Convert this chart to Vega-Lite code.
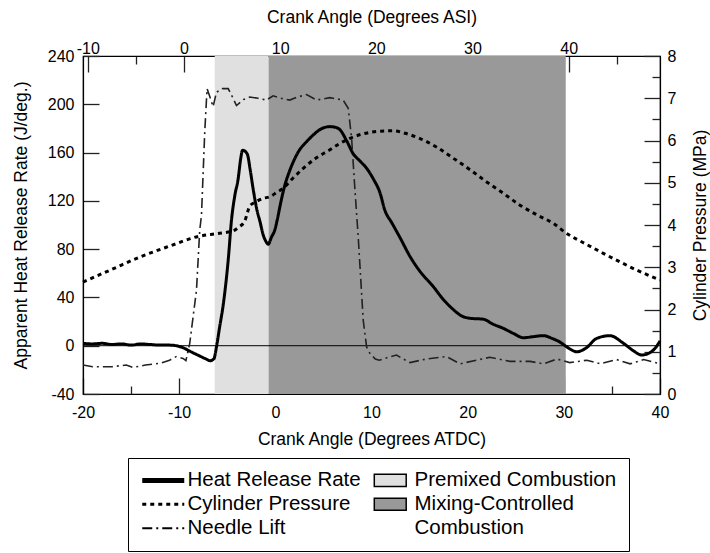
{
  "$schema": "https://vega.github.io/schema/vega-lite/v6.json",
  "width": 577,
  "height": 338,
  "autosize": {"type": "none"},
  "padding": {"left": 83, "top": 56, "right": 50, "bottom": 159},
  "background": "white",
  "config": {
    "view": {"stroke": "black", "strokeWidth": 1.2},
    "font": "Liberation Sans",
    "axis": {
      "grid": false, "domainColor": "black", "domainWidth": 1.2,
      "tickColor": "#222", "tickWidth": 1.3,
      "labelColor": "black", "titleColor": "black",
      "labelFont": "Liberation Sans", "titleFont": "Liberation Sans",
      "labelFontSize": 16, "titleFontSize": 17.5, "titleFontWeight": "normal",
      "labelFlush": false, "labelOverlap": false, "labelBound": false
    }
  },
  "datasets": {
    "phases": [
      {"start": -6.3, "end": -0.7, "phase": "Premixed Combustion"},
      {"start": -0.7, "end": 30.2, "phase": "Mixing-Controlled Combustion"}
    ],
    "zero": [{"value": 0}],
    "asiRange": [{"asi": -10.5}, {"asi": 49.5}],
    "heatRelease": [
      {"atdc": -20, "value": 2}, {"atdc": -19, "value": 1.5}, {"atdc": -18, "value": 2}, {"atdc": -17, "value": 1},
      {"atdc": -16, "value": 1.5}, {"atdc": -15, "value": 0.5}, {"atdc": -14, "value": 1.5}, {"atdc": -13, "value": 1},
      {"atdc": -12, "value": 0.5}, {"atdc": -11, "value": 0.5}, {"atdc": -10.3, "value": 0}, {"atdc": -9.5, "value": -2},
      {"atdc": -8.9, "value": -4.5}, {"atdc": -8, "value": -8}, {"atdc": -7.2, "value": -11}, {"atdc": -6.8, "value": -12.4},
      {"atdc": -6.4, "value": -11}, {"atdc": -6.1, "value": 0}, {"atdc": -5.8, "value": 15}, {"atdc": -5.4, "value": 35},
      {"atdc": -4.9, "value": 71}, {"atdc": -4.56, "value": 104}, {"atdc": -4.2, "value": 125}, {"atdc": -3.87, "value": 138},
      {"atdc": -3.6, "value": 155}, {"atdc": -3.41, "value": 162}, {"atdc": -2.93, "value": 159}, {"atdc": -2.6, "value": 145},
      {"atdc": -2.31, "value": 130}, {"atdc": -1.9, "value": 112}, {"atdc": -1.6, "value": 103}, {"atdc": -1.27, "value": 92},
      {"atdc": -0.95, "value": 86}, {"atdc": -0.75, "value": 84}, {"atdc": -0.4, "value": 90}, {"atdc": -0.05, "value": 96},
      {"atdc": 0.19, "value": 104}, {"atdc": 0.6, "value": 120}, {"atdc": 0.99, "value": 133}, {"atdc": 1.4, "value": 143},
      {"atdc": 1.85, "value": 152}, {"atdc": 2.5, "value": 162}, {"atdc": 3.25, "value": 169}, {"atdc": 4, "value": 175},
      {"atdc": 4.63, "value": 179}, {"atdc": 5.67, "value": 181.5}, {"atdc": 6.2, "value": 181}, {"atdc": 6.71, "value": 179},
      {"atdc": 7.4, "value": 170}, {"atdc": 8.1, "value": 159}, {"atdc": 8.8, "value": 153}, {"atdc": 9.49, "value": 147},
      {"atdc": 10.2, "value": 138}, {"atdc": 10.87, "value": 127}, {"atdc": 11.4, "value": 112}, {"atdc": 12.1, "value": 102},
      {"atdc": 13, "value": 89}, {"atdc": 14, "value": 74}, {"atdc": 15, "value": 62}, {"atdc": 16.42, "value": 49},
      {"atdc": 17.5, "value": 38}, {"atdc": 18.5, "value": 30}, {"atdc": 19.3, "value": 25}, {"atdc": 20.24, "value": 22.7},
      {"atdc": 21.62, "value": 22}, {"atdc": 22.6, "value": 18}, {"atdc": 23.7, "value": 14.4}, {"atdc": 24.8, "value": 10},
      {"atdc": 25.8, "value": 6.6}, {"atdc": 26.8, "value": 7.5}, {"atdc": 27.87, "value": 8.3}, {"atdc": 28.8, "value": 6},
      {"atdc": 29.6, "value": 3}, {"atdc": 30.4, "value": -1.5}, {"atdc": 31.34, "value": -5}, {"atdc": 32.3, "value": -2},
      {"atdc": 33.4, "value": 6}, {"atdc": 34.8, "value": 8.3}, {"atdc": 36.2, "value": 2}, {"atdc": 37.2, "value": -4},
      {"atdc": 38.1, "value": -7.7}, {"atdc": 38.9, "value": -6}, {"atdc": 39.5, "value": -2}, {"atdc": 40, "value": 4}
    ],
    "needleLift": [
      {"atdc": -20, "value": -16}, {"atdc": -19, "value": -17.4}, {"atdc": -17, "value": -17.4}, {"atdc": -15.5, "value": -16},
      {"atdc": -14.8, "value": -18}, {"atdc": -13.5, "value": -16}, {"atdc": -12, "value": -14.6}, {"atdc": -11, "value": -12},
      {"atdc": -10.3, "value": -9}, {"atdc": -9.6, "value": -10.5}, {"atdc": -9.3, "value": -12.4}, {"atdc": -8.9, "value": 2},
      {"atdc": -8.2, "value": 46}, {"atdc": -7.86, "value": 96}, {"atdc": -7.68, "value": 108}, {"atdc": -7.34, "value": 177},
      {"atdc": -7.1, "value": 213}, {"atdc": -6.8, "value": 206}, {"atdc": -6.47, "value": 198}, {"atdc": -6.12, "value": 210},
      {"atdc": -5.5, "value": 213}, {"atdc": -4.9, "value": 213}, {"atdc": -4.4, "value": 205}, {"atdc": -4.04, "value": 199},
      {"atdc": -3.3, "value": 204}, {"atdc": -2.65, "value": 206}, {"atdc": -1.8, "value": 205}, {"atdc": -0.92, "value": 203.5},
      {"atdc": -0.23, "value": 207}, {"atdc": 0.6, "value": 205}, {"atdc": 1.5, "value": 203.5}, {"atdc": 2.3, "value": 206},
      {"atdc": 3.25, "value": 208}, {"atdc": 4.28, "value": 203.5}, {"atdc": 5.67, "value": 205.5}, {"atdc": 7.05, "value": 203.5},
      {"atdc": 7.58, "value": 196.7}, {"atdc": 7.93, "value": 172}, {"atdc": 8.27, "value": 130}, {"atdc": 8.62, "value": 90},
      {"atdc": 9.14, "value": 21}, {"atdc": 9.49, "value": -1}, {"atdc": 9.83, "value": -6.3}, {"atdc": 10.4, "value": -11},
      {"atdc": 10.8, "value": -12}, {"atdc": 11.6, "value": -10}, {"atdc": 12.6, "value": -7.7}, {"atdc": 13.3, "value": -11},
      {"atdc": 14, "value": -14}, {"atdc": 15.7, "value": -11}, {"atdc": 17.8, "value": -9}, {"atdc": 19.2, "value": -15},
      {"atdc": 20.9, "value": -12}, {"atdc": 22.3, "value": -9.6}, {"atdc": 24.4, "value": -13}, {"atdc": 26.5, "value": -13},
      {"atdc": 27.9, "value": -15}, {"atdc": 29.3, "value": -11}, {"atdc": 30.6, "value": -14}, {"atdc": 32.4, "value": -12},
      {"atdc": 33.8, "value": -15}, {"atdc": 35.5, "value": -11.5}, {"atdc": 36.9, "value": -15}, {"atdc": 38.3, "value": -11.5},
      {"atdc": 40, "value": -15}
    ],
    "pressure": [
      {"atdc": -20, "value": 2.65}, {"atdc": -17, "value": 2.95}, {"atdc": -14, "value": 3.25}, {"atdc": -11, "value": 3.5},
      {"atdc": -8, "value": 3.73}, {"atdc": -6, "value": 3.8}, {"atdc": -4.4, "value": 3.86}, {"atdc": -3.8, "value": 3.95},
      {"atdc": -3.17, "value": 4.1}, {"atdc": -2.65, "value": 4.45}, {"atdc": -2, "value": 4.55}, {"atdc": -1.27, "value": 4.63},
      {"atdc": -0.57, "value": 4.67}, {"atdc": 0.2, "value": 4.78}, {"atdc": 0.81, "value": 4.87}, {"atdc": 1.8, "value": 5.1},
      {"atdc": 2.9, "value": 5.34}, {"atdc": 4.2, "value": 5.58}, {"atdc": 5.67, "value": 5.78}, {"atdc": 6.7, "value": 5.93},
      {"atdc": 7.75, "value": 6.05}, {"atdc": 9, "value": 6.15}, {"atdc": 10.87, "value": 6.22}, {"atdc": 12.26, "value": 6.23},
      {"atdc": 13.5, "value": 6.17}, {"atdc": 15, "value": 6.05}, {"atdc": 16.8, "value": 5.84}, {"atdc": 18.5, "value": 5.58},
      {"atdc": 20.3, "value": 5.3}, {"atdc": 21.97, "value": 5.02}, {"atdc": 23.7, "value": 4.75}, {"atdc": 25.44, "value": 4.47},
      {"atdc": 27.2, "value": 4.24}, {"atdc": 28.9, "value": 4.04}, {"atdc": 30.3, "value": 3.8}, {"atdc": 32.2, "value": 3.56},
      {"atdc": 34.1, "value": 3.33}, {"atdc": 35.9, "value": 3.12}, {"atdc": 37.6, "value": 2.93}, {"atdc": 40, "value": 2.7}
    ]
  },
  "layer": [
    {
      "layer": [
        {
          "data": {"name": "phases"},
          "mark": {"type": "rect"},
          "encoding": {
            "x": {
              "field": "start", "type": "quantitative",
              "scale": {"domain": [-20, 40], "nice": false, "zero": false},
              "axis": {
                "orient": "bottom",
                "title": "Crank Angle (Degrees ATDC)",
                "values": [-20, -15, -10, -5, 0, 5, 10, 15, 20, 25, 30, 35, 40],
                "labelExpr": "datum.value % 10 === 0 ? '' + datum.value : ''",
                "tickSize": {"condition": {"test": "datum.value % 10 === 0", "value": -16}, "value": -8},
                "labelPadding": 26,
                "titlePadding": 2
              }
            },
            "x2": {"field": "end"},
            "fill": {
              "field": "phase", "type": "nominal",
              "scale": {"domain": ["Premixed Combustion", "Mixing-Controlled Combustion"], "range": ["#e0e0e0", "#999999"]},
              "legend": null
            }
          }
        },
        {
          "data": {"name": "zero"},
          "mark": {"type": "rule", "color": "black", "strokeWidth": 1},
          "encoding": {"y": {"field": "value", "type": "quantitative"}}
        },
        {
          "data": {"name": "needleLift"},
          "mark": {"type": "line", "stroke": "#222222", "strokeWidth": 1.6},
          "encoding": {
            "x": {"field": "atdc", "type": "quantitative"},
            "y": {"field": "value", "type": "quantitative"},
            "strokeDash": {
              "datum": "Needle Lift", "type": "nominal",
              "scale": {
                "domain": ["Heat Release Rate", "Cylinder Pressure", "Needle Lift", "Premixed Combustion", "Mixing-Controlled Combustion", "Combustion"],
                "range": [[1, 0], [4, 4], [10, 4, 2, 4], [1, 0], [1, 0], [1, 0]]
              }
            }
          }
        },
        {
          "data": {"name": "heatRelease"},
          "mark": {"type": "line", "stroke": "black", "strokeWidth": 3, "interpolate": "monotone"},
          "encoding": {
            "x": {"field": "atdc", "type": "quantitative"},
            "y": {
              "field": "value", "type": "quantitative",
              "scale": {"domain": [-40, 240], "nice": false, "zero": false},
              "axis": {
                "orient": "left",
                "title": "Apparent Heat Release Rate (J/deg.)",
                "values": [-40, -20, 0, 20, 40, 60, 80, 100, 120, 140, 160, 180, 200, 220, 240],
                "labelExpr": "datum.value % 40 === 0 ? '' + datum.value : ''",
                "tickSize": {"condition": {"test": "datum.value % 40 === 0", "value": -16}, "value": -8},
                "labelPadding": 25,
                "titlePadding": 17
              }
            },
            "strokeDash": {
              "datum": "Heat Release Rate", "type": "nominal",
              "scale": {
                "domain": ["Heat Release Rate", "Cylinder Pressure", "Needle Lift", "Premixed Combustion", "Mixing-Controlled Combustion", "Combustion"],
                "range": [[1, 0], [4, 4], [10, 4, 2, 4], [1, 0], [1, 0], [1, 0]]
              },
              "legend": {
                "title": null,
                "orient": "none",
                "legendX": 45,
                "legendY": 402,
                "direction": "vertical",
                "columns": 2,
                "symbolSize": 1764,
                "symbolType": "stroke",
                "symbolStrokeColor": "black",
                "symbolOffset": 13,
                "labelFont": "Liberation Sans",
                "labelFontSize": 20.5,
                "labelColor": "black",
                "labelLimit": 400,
                "labelOffset": 14,
                "rowPadding": 3,
                "columnPadding": 6,
                "strokeColor": "black",
                "padding": 12,
                "labelExpr": "datum.value === 'Mixing-Controlled Combustion' ? 'Mixing-Controlled' : datum.label",
                "encode": {
                  "symbols": {
                    "update": {
                      "shape": {"signal": "datum.value === 'Premixed Combustion' || datum.value === 'Mixing-Controlled Combustion' ? 'M-0.76,-0.29H0.76V0.29H-0.76Z' : 'stroke'"},
                      "fill": {"signal": "datum.value === 'Premixed Combustion' ? '#e0e0e0' : datum.value === 'Mixing-Controlled Combustion' ? '#999999' : 'transparent'"},
                      "stroke": {"value": "black"},
                      "strokeWidth": {"signal": "datum.value === 'Heat Release Rate' ? 5 : datum.value === 'Cylinder Pressure' ? 3 : datum.value === 'Needle Lift' ? 2 : 1.5"},
                      "opacity": {"signal": "datum.value === 'Combustion' ? 0 : 1"}
                    }
                  }
                }
              }
            }
          }
        }
      ]
    },
    {
      "data": {"name": "pressure"},
      "mark": {"type": "line", "stroke": "black", "strokeWidth": 3, "interpolate": "monotone"},
      "encoding": {
        "x": {"field": "atdc", "type": "quantitative", "scale": {"domain": [-20, 40], "nice": false, "zero": false}, "axis": null},
        "y": {
          "field": "value", "type": "quantitative",
          "scale": {"domain": [0, 8], "nice": false, "zero": false},
          "axis": {
            "orient": "right",
            "title": "Cylinder Pressure (MPa)",
            "values": [0, 0.5, 1, 1.5, 2, 2.5, 3, 3.5, 4, 4.5, 5, 5.5, 6, 6.5, 7, 7.5, 8],
            "labelExpr": "datum.value % 1 === 0 ? '' + datum.value : ''",
            "tickSize": {"condition": {"test": "datum.value % 1 === 0", "value": -16}, "value": -8},
            "labelPadding": 23,
            "titleAngle": -90,
            "titleBaseline": "top",
            "titlePadding": 16
          }
        },
        "strokeDash": {
          "datum": "Cylinder Pressure", "type": "nominal",
          "scale": {
            "domain": ["Heat Release Rate", "Cylinder Pressure", "Needle Lift", "Premixed Combustion", "Mixing-Controlled Combustion", "Combustion"],
            "range": [[1, 0], [4, 4], [10, 4, 2, 4], [1, 0], [1, 0], [1, 0]]
          }
        }
      }
    },
    {
      "data": {"name": "asiRange"},
      "mark": {"type": "rule", "opacity": 0},
      "encoding": {
        "x": {
          "field": "asi", "type": "quantitative",
          "scale": {"domain": [-10.5, 49.5], "nice": false, "zero": false},
          "axis": {
            "orient": "top",
            "title": "Crank Angle (Degrees ASI)",
            "values": [-10, -5, 0, 5, 10, 15, 20, 25, 30, 35, 40, 45],
            "labelExpr": "datum.value % 10 === 0 ? '' + datum.value : ''",
            "tickSize": {"condition": {"test": "datum.value % 10 === 0", "value": -16}, "value": -8},
            "labelPadding": 16,
            "titlePadding": 6
          }
        }
      }
    }
  ],
  "resolve": {"scale": {"x": "independent", "y": "independent"}}
}
